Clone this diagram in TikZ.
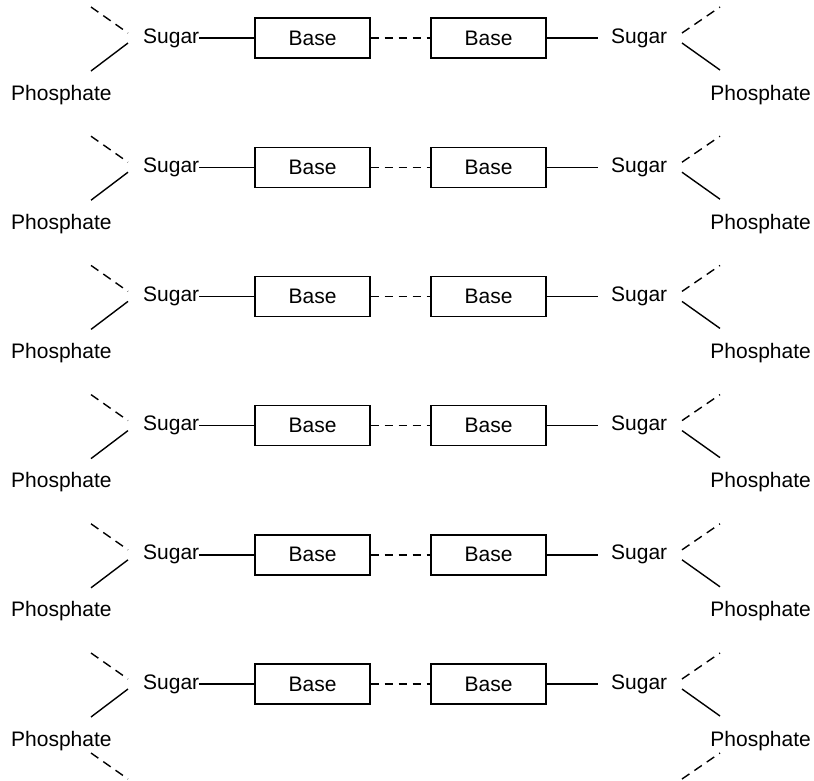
\documentclass[tikz,border=0pt]{standalone}
\usepackage{fontspec}
\setmainfont{Liberation Sans}
\begin{document}
\begin{tikzpicture}[x=1pt,y=-1pt,
  every node/.style={inner sep=0pt,font=\fontsize{21}{25}\selectfont},
  basebox/.style={draw,line width=1.4pt,minimum width=115pt,minimum height=40pt},
  bond/.style={line width=1.4pt},
  hbond/.style={line width=1.4pt,dash pattern=on 8pt off 6pt},
  link/.style={line width=1.4pt,dash pattern=on 9pt off 6pt}]
\useasboundingbox (0,0) rectangle (814,780);
\foreach \i in {0,...,5}{
  \pgfmathsetmacro{\y}{37+129.2*\i}
  \node[anchor=base west] (sl\i) at (143,\y+6) {Sugar};
  \node[basebox] (ba\i) at (312.5,\y+1) {Base};
  \node[basebox] (bb\i) at (488.5,\y+1) {Base};
  \node[anchor=base west] (sr\i) at (611,\y+6) {Sugar};
  \node[anchor=base west] (pl\i) at (11,\y+63) {Phosphate};
  \node[anchor=base east] (pr\i) at (811,\y+63) {Phosphate};
  \coordinate (lta\i) at (91,\y-30);
  \coordinate (ltb\i) at (128,\y-4);
  \coordinate (lba\i) at (128,\y+6);
  \coordinate (lbb\i) at (91,\y+34);
  \coordinate (rta\i) at (682,\y-4);
  \coordinate (rtb\i) at (720,\y-30);
  \coordinate (rba\i) at (682,\y+6);
  \coordinate (rbb\i) at (720,\y+33);
  \coordinate (sre\i) at (598,\y+1);
  \draw[bond] (sl\i.east |- ba\i.west) -- (ba\i.west);
  \draw[hbond] (ba\i.east) -- (bb\i.west);
  \draw[bond] (bb\i.east) -- (sre\i);
  \draw[link] (lta\i) -- (ltb\i);
  \draw[bond] (lba\i) -- (lbb\i);
  \draw[link] (rta\i) -- (rtb\i);
  \draw[bond] (rba\i) -- (rbb\i);
}
\coordinate (lend) at (91,753);
\coordinate (lendb) at (128,779);
\coordinate (rend) at (720,753);
\coordinate (rendb) at (682,779);
\draw[link] (lend) -- (lendb);
\draw[link] (rendb) -- (rend);
\end{tikzpicture}
\end{document}
